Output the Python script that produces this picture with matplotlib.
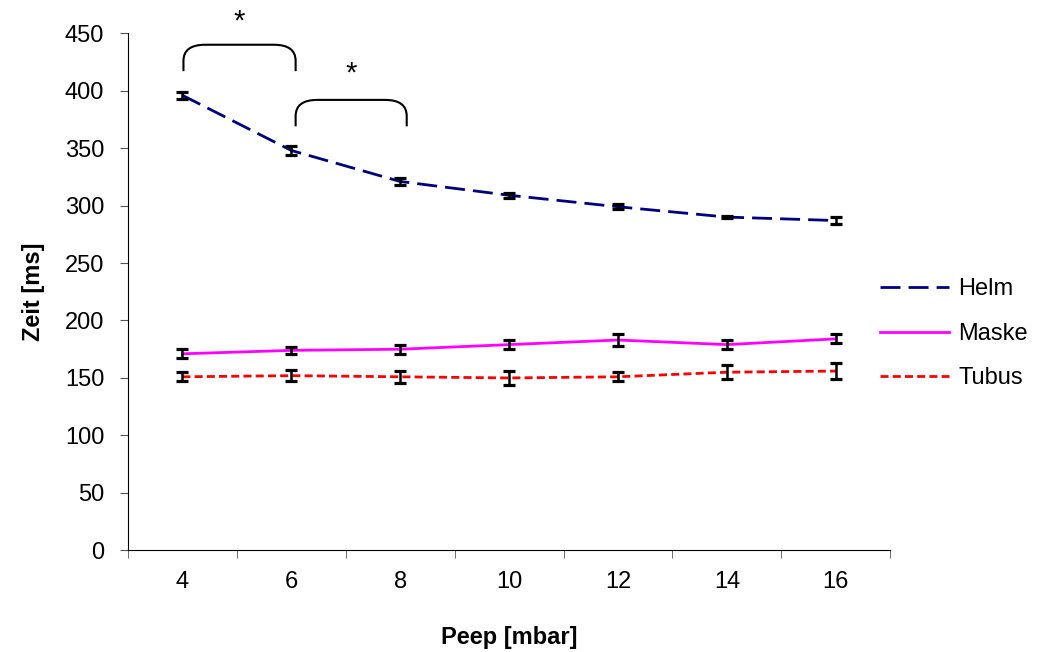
import numpy as np
import matplotlib.pyplot as plt
from matplotlib.path import Path
from matplotlib.patches import PathPatch

plt.rcParams['font.family'] = ['Liberation Sans', 'DejaVu Sans']

peep = ["4", "6", "8", "10", "12", "14", "16"]
helm = [396, 348, 321, 309, 299, 290, 287]
helm_err = [3, 4, 3, 2, 2, 1, 3]
maske = [171, 174, 175, 179, 183, 179, 184]
maske_err = [4, 3, 4, 4, 5, 4, 4]
tubus = [151, 152, 151, 150, 151, 155, 156]
tubus_err = [4, 5, 5, 6, 4, 6, 7]

x = np.arange(len(peep))

fig = plt.figure(figsize=(10.4, 6.52), dpi=100)
ax = fig.add_axes([0.123, 0.156, 0.733, 0.793])

ax.plot(x, helm, color="#000080", lw=2, dashes=(7.2, 2.9), label="Helm", zorder=2)
ax.plot(x, maske, color="#ff00ff", lw=2, label="Maske", zorder=2)
ax.plot(x, tubus, color="#ff0000", lw=2, dashes=(2.9, 1.5), label="Tubus", zorder=2)

for vals, errs in [(helm, helm_err), (maske, maske_err), (tubus, tubus_err)]:
    ax.errorbar(x, vals, yerr=errs, fmt="none", ecolor="black",
                elinewidth=1.8, capsize=4.3, capthick=2.3, zorder=3)

# significance brackets
def bracket(x0, x1, ybot, ytop):
    rx, ry = 0.2, 14
    verts = [(x0, ybot), (x0, ytop - ry), (x0, ytop), (x0 + rx, ytop),
             (x1 - rx, ytop), (x1, ytop), (x1, ytop - ry), (x1, ybot)]
    codes = [Path.MOVETO, Path.LINETO, Path.CURVE3, Path.CURVE3,
             Path.LINETO, Path.CURVE3, Path.CURVE3, Path.LINETO]
    ax.add_patch(PathPatch(Path(verts, codes), fill=False, lw=1.5,
                           color="black", clip_on=False))

bracket(0.01, 1.04, 417, 440)
bracket(1.04, 2.06, 369, 392)
ax.text(0.52, 460, "*", ha="center", va="center", fontsize=21)
ax.text(1.55, 415, "*", ha="center", va="center", fontsize=21)

ax.set_xlim(-0.5, len(peep) - 0.5)
ax.set_ylim(0, 450)
ax.set_yticks(np.arange(0, 451, 50))
ax.set_xticks(x)
ax.set_xticklabels(peep)
ax.set_xticks(np.arange(-0.5, len(peep), 1), minor=True)
ax.tick_params(axis="x", which="major", length=0, pad=15, labelsize=17)
ax.tick_params(axis="x", which="minor", length=6, direction="out", color="#555555")
ax.tick_params(axis="y", length=6, direction="out", labelsize=17, pad=11,
               color="#555555")

ax.spines["top"].set_visible(False)
ax.spines["right"].set_visible(False)

ax.set_xlabel("Peep [mbar]", fontsize=17, fontweight="bold", labelpad=24)
ax.set_ylabel("Zeit [ms]", fontsize=17, fontweight="bold", labelpad=14)

fig.legend(loc="center left", bbox_to_anchor=(0.826, 0.488), frameon=False,
           fontsize=17, handlelength=2.9, handletextpad=0.4, labelspacing=0.95)

fig.savefig("out.png", dpi=100)
